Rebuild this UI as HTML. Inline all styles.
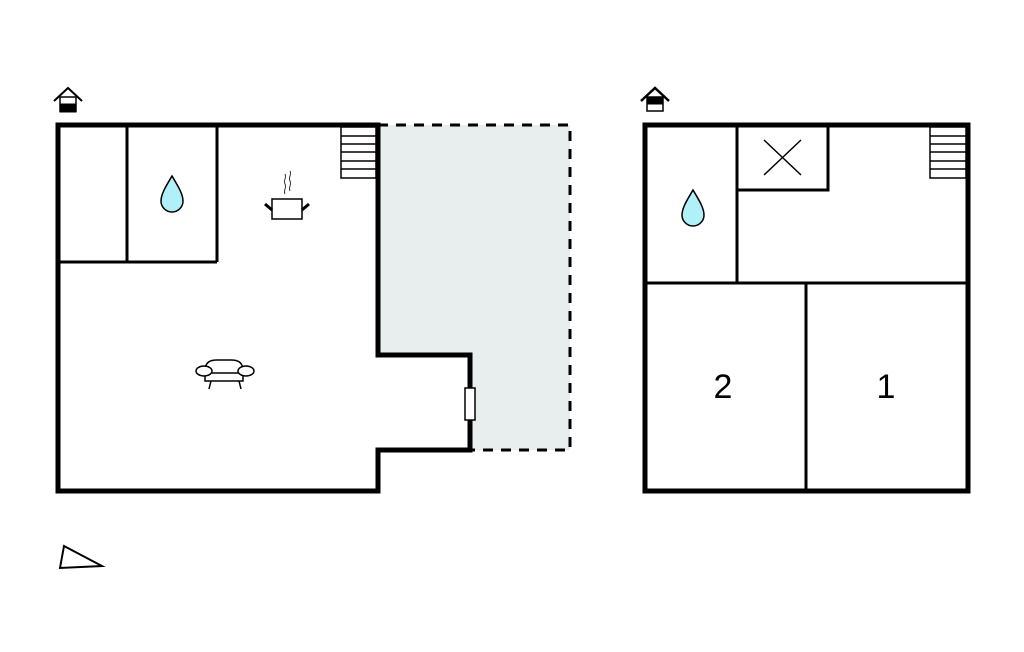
<!DOCTYPE html>
<html><head><style>body{margin:0;background:#fff}svg{display:block}</style></head><body>
<svg width="1024" height="652" viewBox="0 0 1024 652" xmlns="http://www.w3.org/2000/svg">
<rect x="378" y="125" width="192" height="325" fill="#e8eeee"/>
<path d="M378 125 H570 V450 H378" fill="none" stroke="#000" stroke-width="3" stroke-dasharray="10 8"/>
<path d="M58 125 H378 V355 H470 V450 H378 V491 H58 Z" fill="#fff" stroke="#000" stroke-width="5"/>
<rect x="378" y="125" width="192" height="0" />
<g stroke="#000" stroke-width="3" fill="none">
<line x1="127" y1="125" x2="127" y2="262"/>
<line x1="217" y1="125" x2="217" y2="262"/>
<line x1="58" y1="262" x2="217" y2="262"/>
</g>
<rect x="465" y="388" width="10" height="32" fill="#fff" stroke="#000" stroke-width="1.5"/>
<g stroke="#000" stroke-width="1.5" fill="none">
<rect x="341" y="127" width="35" height="51"/>
<line x1="341" y1="136" x2="376" y2="136"/><line x1="341" y1="144" x2="376" y2="144"/><line x1="341" y1="152" x2="376" y2="152"/><line x1="341" y1="161" x2="376" y2="161"/><line x1="341" y1="169" x2="376" y2="169"/>
</g>
<path d="M172 176 C166 186 161 194 161 201 A11 11 0 0 0 183 201 C183 194 178 186 172 176 Z" fill="#b0f0f8" stroke="#000" stroke-width="1.5"/>
<path d="M684 190 C678 200 673 208 673 215 A11 11 0 0 0 695 215 C695 208 690 200 684 190 Z" fill="#b0f0f8" stroke="#000" stroke-width="1.5" transform="translate(9,0)"/>
<g stroke="#000" fill="none">
<rect x="272" y="199" width="30" height="20" stroke-width="1.5"/>
<line x1="265" y1="204" x2="272" y2="210" stroke-width="3"/>
<line x1="309" y1="204" x2="302" y2="210" stroke-width="3"/>
<path d="M285 194 c-2-4 2-6 0-10 c-2-4 2-6 0-10 M290 191 c-2-4 2-6 0-10 c-2-4 2-6 0-10" stroke-width="1" stroke="#333"/>
</g>
<g stroke="#000" stroke-width="1.5" fill="#fff">
<path d="M205 371 c0-8 4-11 12-11 h14 c8 0 12 3 12 11 v10 h-38 Z"/>
<ellipse cx="204" cy="371" rx="8" ry="5"/>
<ellipse cx="246" cy="371" rx="8" ry="5"/>
<line x1="212" y1="373" x2="238" y2="373"/>
<line x1="211" y1="381" x2="209" y2="389"/><line x1="239" y1="381" x2="241" y2="389"/>
</g>
<g stroke="#000" fill="none">
<path d="M54 101 L68 88 L82 101" stroke-width="2"/>
<rect x="60" y="97" width="16" height="14" stroke-width="1.5" fill="#fff"/>
<rect x="60" y="104" width="16" height="8" fill="#000"/>
<path d="M641 101 L655 88 L669 101" stroke-width="2.5"/>
<rect x="647" y="97" width="16" height="14" stroke-width="1.5" fill="#fff"/>
<rect x="647" y="97" width="16" height="7" fill="#000"/>
<path d="M64 546 L102 566 L60 568 Z" stroke-width="2"/>
</g>
<rect x="645" y="125" width="323" height="366" fill="none" stroke="#000" stroke-width="5"/>
<g stroke="#000" stroke-width="3" fill="none">
<line x1="737" y1="125" x2="737" y2="283"/>
<line x1="645" y1="283" x2="968" y2="283"/>
<path d="M737 190 H828 V125"/>
<line x1="806" y1="283" x2="806" y2="491"/>
</g>
<g stroke="#000" stroke-width="1.5" fill="none">
<line x1="764" y1="140" x2="801" y2="175"/><line x1="801" y1="140" x2="764" y2="175"/>
<rect x="930" y="127" width="36" height="51"/>
<line x1="930" y1="136" x2="966" y2="136"/><line x1="930" y1="144" x2="966" y2="144"/><line x1="930" y1="152" x2="966" y2="152"/><line x1="930" y1="161" x2="966" y2="161"/><line x1="930" y1="169" x2="966" y2="169"/>
</g>
<text x="723" y="398" font-family="Liberation Sans, sans-serif" font-size="34" text-anchor="middle">2</text>
<text x="886" y="398" font-family="Liberation Sans, sans-serif" font-size="34" text-anchor="middle">1</text>
</svg>
</body></html>
